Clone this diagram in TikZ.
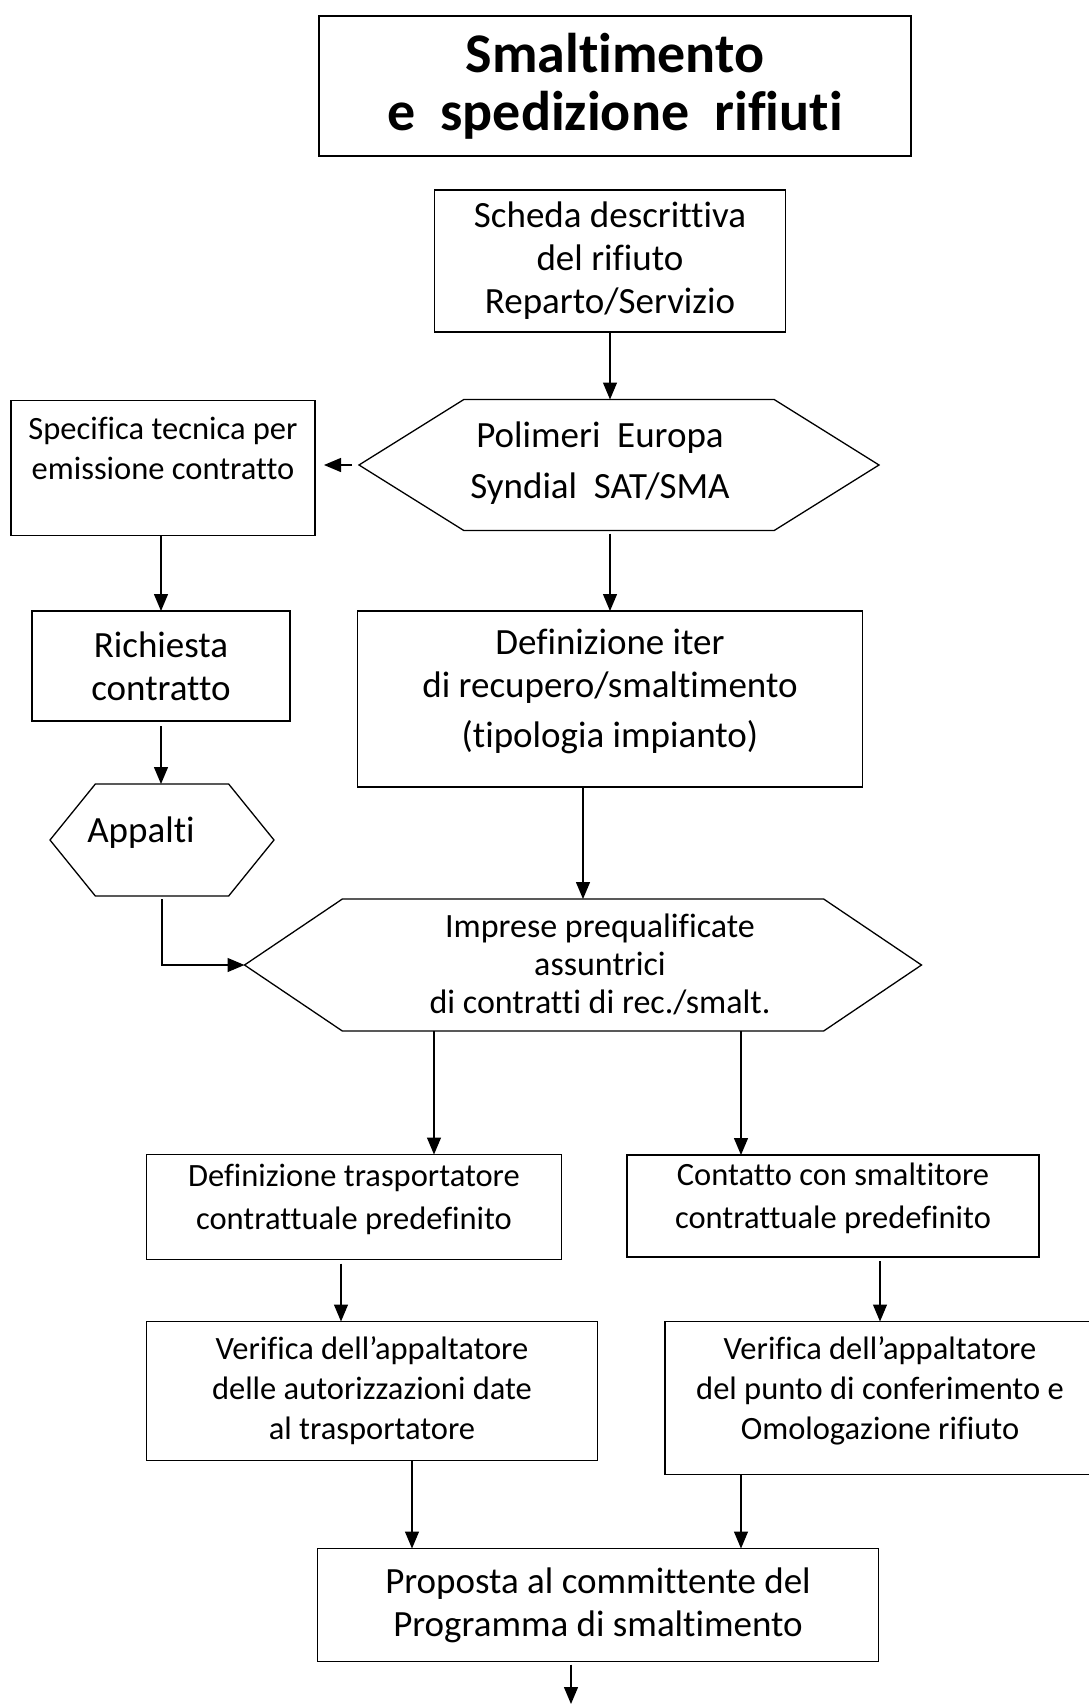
\documentclass[tikz,border=0pt]{standalone}
\usepackage{fontspec}
\setmainfont{Carlito}[Ligatures=NoCommon]
\usetikzlibrary{arrows.meta,shapes.symbols}
\newcommand{\bigtext}{\fontsize{37}{43}\selectfont}
\newcommand{\midtext}{\fontsize{32.5}{40}\selectfont}
\newcommand{\linew}{1.3pt}
% empty last line, lifts the text block inside its box
\newcommand{\lift}[1]{\\[#1]\mbox{}}
\tikzset{
    common/.style={draw, line width=\linew, inner sep=0pt, outer sep=0pt, align=center},
    box/.style={common, rectangle},
    hexa/.style={common, shape=signal, signal to=west and east},
    txt/.style={align=center, inner sep=0pt},
    arr/.style={-{Triangle[length=17pt,width=14pt]}, line width=\linew}
}
\begin{document}
\begin{tikzpicture}[x=1pt, y=-1pt]
    \useasboundingbox (0,0) rectangle (1089,1706);

    \node[box, minimum width=592pt, minimum height=140pt, font=\fontsize{56}{58}\selectfont\bfseries] (title) at (615,86)
        {Smaltimento\\e\ \ spedizione\ \ rifiuti};
    \node[box, minimum width=351pt, minimum height=142pt, font=\bigtext] (scheda) at (610,261)
        {Scheda descrittiva\\del rifiuto\\Reparto/Servizio};

    \node[hexa, minimum width=520pt, minimum height=131pt, signal pointer angle=64] (poli) at (619,465) {};
    \node[txt, font=\fontsize{37}{51}\selectfont] (politxt) at (600,463) {Polimeri\ \ Europa\\Syndial\ \ SAT/SMA};

    \node[box, minimum width=304pt, minimum height=135pt, font=\midtext] (spec) at (163,468)
        {Specifica tecnica per\\emissione contratto\\\mbox{}};
    \node[box, minimum width=258pt, minimum height=110pt, font=\bigtext] (rich) at (161,666)
        {Richiesta\\contratto};

    \node[hexa, minimum width=224pt, minimum height=112pt, signal pointer angle=102] (app) at (162,840) {};
    \node[txt, font=\bigtext] (apptxt) at (141,833) {Appalti};

    \node[box, minimum width=505pt, minimum height=176pt, font=\bigtext] (iter) at (610,699)
        {Definizione iter\\di recupero/smaltimento\\[7pt](tipologia impianto)\lift{-21pt}};

    \node[hexa, minimum width=677pt, minimum height=132pt, signal pointer angle=68] (impr) at (583,965) {};
    \node[txt, font=\fontsize{34}{38}\selectfont] (imprtxt) at (600,964)
        {Imprese prequalificate\\assuntrici\\di contratti di rec./smalt.};

    \node[box, minimum width=415pt, minimum height=105pt, font=\fontsize{32.5}{43}\selectfont] (trasp) at (354,1207)
        {Definizione trasportatore\\contrattuale predefinito\lift{-23pt}};
    \node[box, minimum width=412pt, minimum height=102pt, font=\fontsize{32.5}{43}\selectfont] (cont) at (833,1206)
        {Contatto con smaltitore\\contrattuale predefinito\lift{-23pt}};

    \node[box, minimum width=451pt, minimum height=139pt, font=\midtext] (ver1) at (372,1391)
        {Verifica dell’appaltatore\\delle autorizzazioni date\\al trasportatore};
    \node[box, minimum width=430pt, minimum height=153pt, font=\midtext] (ver2) at (880,1398)
        {Verifica dell’appaltatore\\del punto di conferimento e\\Omologazione rifiuto\lift{-21pt}};

    \node[box, minimum width=561pt, minimum height=113pt, font=\bigtext] (prop) at (598,1605)
        {Proposta al committente del\\Programma di smaltimento};

    % columns of the vertical connectors
    \coordinate (c1) at (434,0);
    \coordinate (c2) at (741,0);
    \coordinate (c3) at (341,0);
    \coordinate (c4) at (412,0);
    \coordinate (c5) at (571,1704);

    \draw[arr] (scheda.south) -- (scheda.south |- poli.north);
    \draw[arr, shorten <=7pt, shorten >=9pt] (poli.west) -- (poli.west -| spec.east);
    \draw[arr, shorten <=3pt] (poli.south -| iter.north) -- (iter.north);
    \draw[arr] (spec.south -| rich.north) -- (rich.north);
    \draw[arr, shorten <=5pt] (rich.south) -- (rich.south |- app.north);
    \draw[arr, shorten <=3pt] (app.south) |- (impr.west);
    \draw[arr] (iter.south -| impr.north) -- (impr.north);
    \draw[arr] (c1 |- impr.south) -- (c1 |- trasp.north);
    \draw[arr] (c2 |- impr.south) -- (c2 |- cont.north);
    \draw[arr, shorten <=4pt] (c3 |- trasp.south) -- (c3 |- ver1.north);
    \draw[arr, shorten <=4pt] (ver2.north |- cont.south) -- (ver2.north);
    \draw[arr] (c4 |- ver1.south) -- (c4 |- prop.north);
    \draw[arr] (c2 |- ver2.south) -- (c2 |- prop.north);
    \draw[arr, shorten <=3pt] (c5 |- prop.south) -- (c5);
\end{tikzpicture}
\end{document}
